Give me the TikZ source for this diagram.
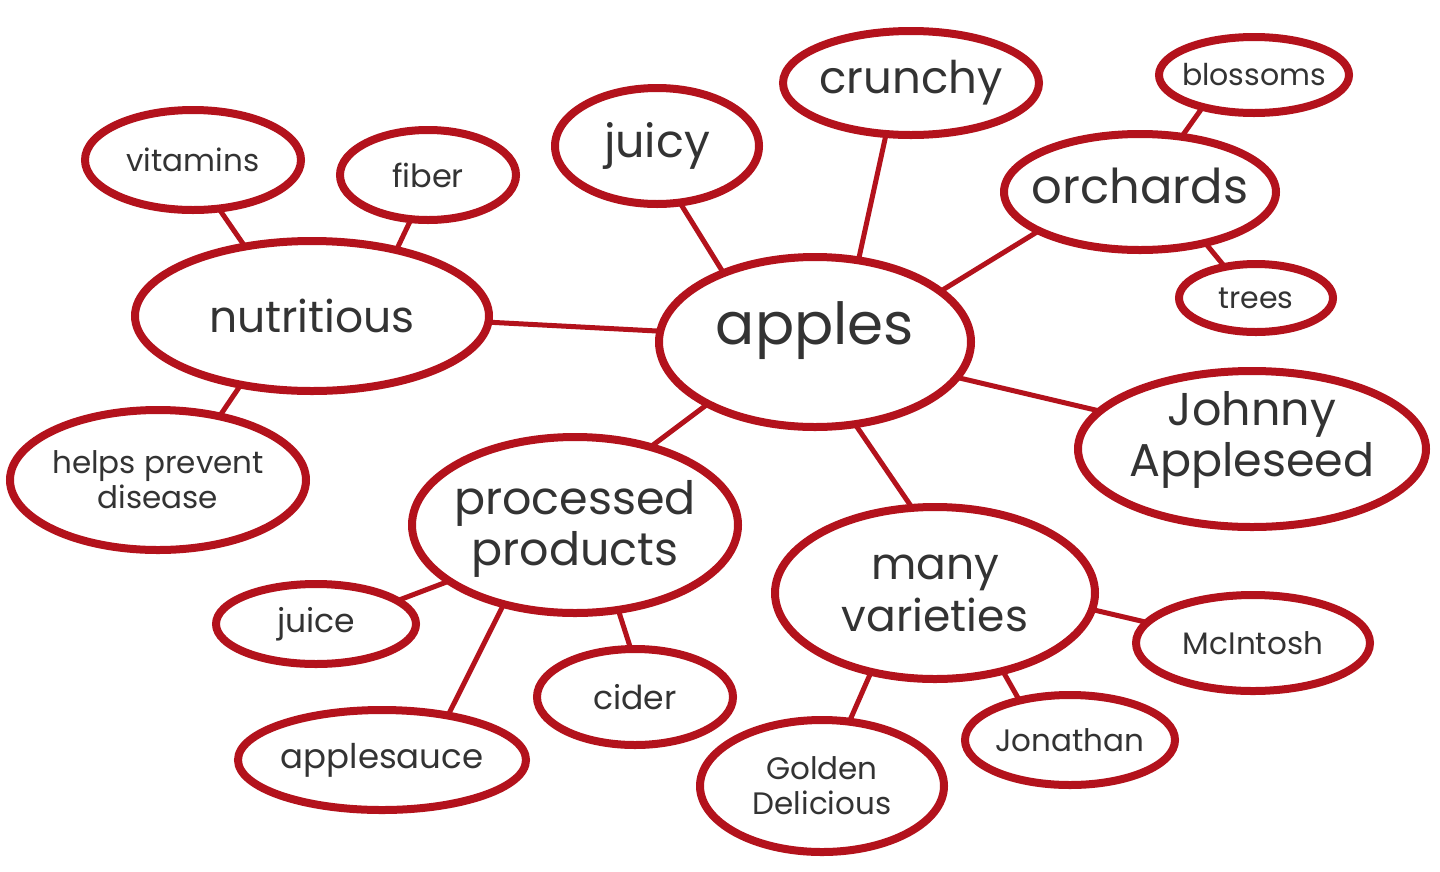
\documentclass[tikz,border=0pt]{standalone}
\usepackage{fontspec}
\setmainfont{Poppins}
\usetikzlibrary{shapes.geometric}
\definecolor{ink}{HTML}{B3121C}
\definecolor{txtc}{HTML}{333333}
\newcommand{\fs}[2]{\fontsize{#1}{#2}\selectfont}
\tikzset{
  bub/.style={draw=ink, line width=8pt, shape=ellipse, inner sep=0pt, outer sep=0pt, fill=white},
  txt/.style={text=txtc, align=center, inner sep=0pt},
  link/.style={draw=ink, line width=5pt},
}
\newcommand{\bubble}[8]{% name, x, y, rx, ry, font, text, text shift up (pt)
  \node[bub, minimum width=#4*2pt, minimum height=#5*2pt,
        label={[txt, font=#6, yshift=#8pt]center:{#7}}] (#1) at (#2,#3) {};}
\begin{document}
\begin{tikzpicture}[x=1pt, y=-1pt]
\fill[white] (0,0) rectangle (1440,871);
\useasboundingbox (0,0) rectangle (1440,871);
% bubbles
\bubble{apples}{815}{342}{156}{85}{\fs{58}{60}}{apples}{11}
\bubble{crunchy}{911}{83}{128}{52}{\fs{45}{47}}{crunchy}{0}
\bubble{juicy}{657}{146}{102}{58}{\fs{46}{48}}{juicy}{0}
\bubble{blossoms}{1254}{75}{95}{38}{\fs{30}{32}}{blossoms}{0}
\bubble{orchards}{1140}{192}{136}{58}{\fs{48}{50}}{orchards}{6}
\bubble{trees}{1256}{298}{77}{34}{\fs{30}{32}}{trees}{0}
\bubble{johnny}{1252}{449}{174}{78}{\fs{46}{51}}{Johnny\\Appleseed}{9}
\bubble{many}{935}{593}{160}{86}{\fs{44}{52}}{many\\varieties}{0}
\bubble{mcintosh}{1253}{643}{117}{48}{\fs{31}{33}}{McIntosh}{0}
\bubble{jonathan}{1070}{740}{105}{45}{\fs{31}{33}}{Jonathan}{0}
\bubble{golden}{822}{786}{122}{66}{\fs{31}{35}}{Golden\\Delicious}{0}
\bubble{processed}{575}{525}{163}{88}{\fs{46}{51}}{processed\\products}{-4}
\bubble{cider}{635}{697}{98}{48}{\fs{33}{35}}{cider}{0}
\bubble{applesauce}{382}{760}{144}{50}{\fs{34}{36}}{applesauce}{0}
\bubble{juice}{316}{624}{100}{40}{\fs{33}{35}}{juice}{0}
\bubble{helps}{158}{480}{148}{70}{\fs{31}{35}}{helps prevent\\disease}{0}
\bubble{nutritious}{312}{316}{177}{75}{\fs{44}{46}}{nutritious}{0}
\bubble{vitamins}{193}{160}{108}{50}{\fs{31}{33}}{vitamins}{0}
\bubble{fiber}{428}{175}{88}{45}{\fs{32}{34}}{fiber}{0}
% connectors (anchor angles on each ellipse)
\foreach \a/\aa/\b/\bb in {
  nutritious/-2.9/apples/176.3,
  juicy/-68.7/apples/143,
  crunchy/-116.6/apples/62.1,
  orchards/-159.7/apples/22.9,
  blossoms/-148/orchards/53.6,
  orchards/-38.5/trees/135.9,
  apples/-14.2/johnny/166.7,
  apples/-64.5/many/105,
  apples/-150.4/processed/46,
  processed/-156.5/juice/16.3,
  processed/-132.6/applesauce/34.4,
  processed/-63.4/cider/95.8,
  many/-6.3/mcintosh/169.9,
  many/-49.5/jonathan/142,
  many/-129.2/golden/67.9,
  vitamins/-62.2/nutritious/134.2,
  fiber/-111.8/nutritious/38.9,
  nutritious/-136.2/helps/46.4}
  \draw[link] (\a.\aa) -- (\b.\bb);
\end{tikzpicture}
\end{document}
